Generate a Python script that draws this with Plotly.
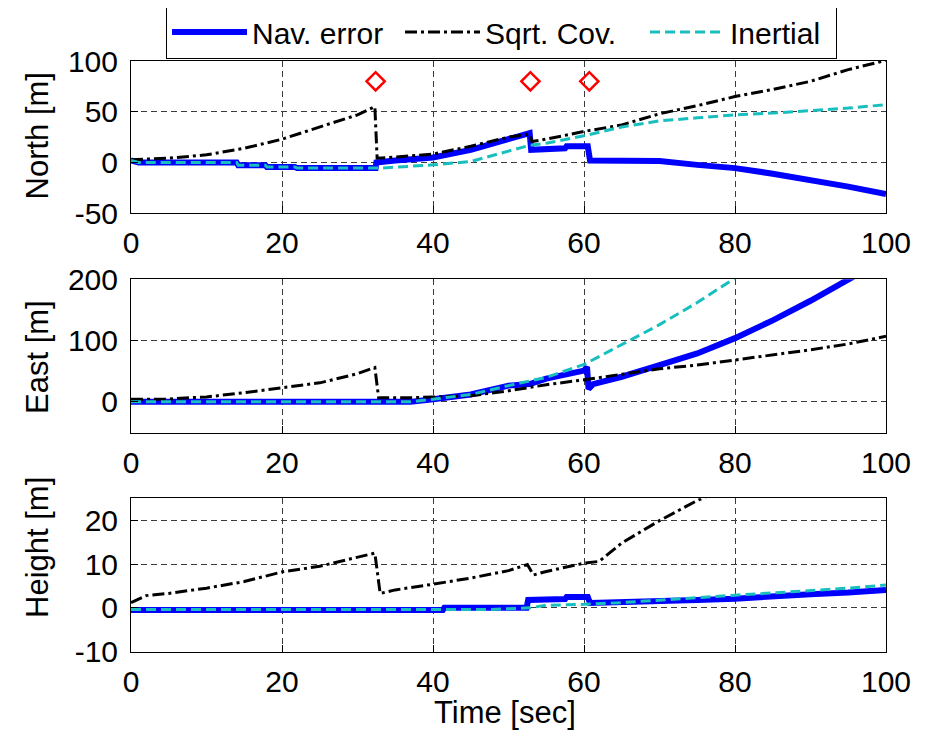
import plotly.graph_objects as go
from plotly.subplots import make_subplots

# ---------------- data ----------------
# North
t_nav_n = [0, 1, 14, 14.2, 17.8, 18, 21.7, 22, 32.4, 32.5, 35, 40, 45, 50, 52.8, 53.0, 55, 57.5, 57.7, 60.5, 60.8, 65, 70, 75, 80, 85, 90, 95, 100]
nav_n = [2, 0, 0, -2.6, -2.6, -4.3, -4.3, -5.5, -5.5, 0, 2, 5, 12.5, 23, 29, 12.5, 13, 14, 16, 16, 2, 1.8, 1.5, -2.3, -5.5, -11, -17, -23.7, -31]
t_cov_n = [0, 5, 10, 15, 20, 25, 30, 32.3, 32.6, 35, 40, 45, 50, 52.8, 53.1, 55, 60, 65, 70, 75, 80, 85, 90, 95, 100]
cov_n = [2.7, 4.3, 7.6, 14, 23, 35, 47, 55, 4.3, 5.3, 8.3, 16, 25, 28, 20.7, 23, 30.6, 37, 48, 56, 65, 72, 80, 91.5, 100.7]
t_ins_n = [0, 1, 14, 14.2, 17.8, 18, 21.7, 22, 33, 37, 40, 45, 50, 52.8, 55, 60, 65, 70, 75, 80, 85, 90, 95, 100]
ins_n = [2, 0, 0, -2.6, -2.6, -4.3, -4.3, -5.5, -5.5, -4, -2.3, 1, 11, 17, 19, 26.4, 35, 41, 44, 47, 48.7, 51, 53.6, 57]
t_update = [32.4, 52.9, 60.7]
y_update = [80, 80, 80]

# East
t_nav_e = [0, 37, 40, 45, 50, 52.8, 55, 60, 60.4, 60.6, 61.2, 65, 70, 75, 80, 85, 90, 95, 96.5]
nav_e = [0, 0, 4.4, 12, 26.5, 29, 38, 51, 57, 21, 29, 41, 60, 79, 104, 133, 165, 200.6, 210]
t_cov_e = [0, 5, 8, 10, 15, 20, 25, 30, 32.3, 32.8, 35, 37, 40, 45, 50, 55, 60, 65, 70, 75, 80, 85, 90, 95, 100]
cov_e = [4.4, 4.4, 7, 8, 15, 22.6, 31, 46, 56, 6.6, 6.6, 6.6, 8, 10, 18, 28, 36, 45, 54, 60, 68, 76, 85, 94.5, 107]
t_ins_e = [0, 37, 40, 45, 50, 55, 60, 65, 70, 75, 80, 81]
ins_e = [0, 0, 4.4, 12, 26.5, 40, 61, 93, 126, 162, 202, 210]

# Height
t_nav_h = [0, 41.3, 41.5, 52.4, 52.6, 57.5, 57.7, 60.5, 60.8, 65, 70, 75, 80, 85, 90, 95, 100]
nav_h = [-0.5, -0.5, 0, 0, 1.8, 2, 2.5, 2.5, 1.1, 1.4, 1.5, 1.8, 2.1, 2.7, 3.1, 3.5, 4.1]
t_cov_h = [0, 2, 5, 10, 15, 20, 25, 30, 32.3, 33, 35, 40, 45, 50, 52.5, 53.3, 55, 60, 62, 65, 70, 75, 77]
cov_h = [1.2, 2.8, 3.3, 4.5, 6, 8.2, 9.5, 11.5, 12.5, 3.3, 4.1, 5.4, 6.8, 8.5, 9.9, 7.5, 8.3, 10.2, 10.6, 14.8, 19.9, 24.5, 26]
t_ins_h = [0, 47, 50, 52.8, 55, 60, 65, 70, 75, 80, 85, 90, 95, 100]
ins_h = [-0.4, -0.4, -0.2, 0, 0.6, 0.8, 1.2, 1.8, 2.3, 2.9, 3.4, 3.9, 4.5, 5.2]

x_ticks = [0, 20, 40, 60, 80, 100]
north_ticks = [-50, 0, 50, 100]
east_ticks = [0, 100, 200]
height_ticks = [-10, 0, 10, 20]

series_names = ["Nav. error", "Sqrt. Cov.", "Inertial"]
panel_titles = ["North [m]", "East [m]", "Height [m]"]
x_title = "Time [sec]"

# ---------------- styling ----------------
OFF = 8                      # page body margin; screen px -> figure px
W, H = 929 - OFF, 733 - OFF
BLUE = "#0000FF"
BLACK = "#000000"
CYAN = "#19BFBF"
RED = "#FF0000"
FONT = "Liberation Sans, Arial, Helvetica, sans-serif"
FS = 30
legend_widths = [143, 155, 101]


def sx(px):
    return px - OFF


def sy(px):
    return px - OFF


fig = make_subplots(rows=3, cols=1)

panels = [
    (t_nav_n, nav_n, t_cov_n, cov_n, t_ins_n, ins_n),
    (t_nav_e, nav_e, t_cov_e, cov_e, t_ins_e, ins_e),
    (t_nav_h, nav_h, t_cov_h, cov_h, t_ins_h, ins_h),
]
for i, (tn, vn, tc, vc, ti, vi) in enumerate(panels):
    row = i + 1
    fig.add_trace(go.Scatter(x=tn, y=vn, mode="lines", name=series_names[0],
                             line=dict(color=BLUE, width=6), showlegend=(i == 0),
                             legendrank=1, legendwidth=legend_widths[0]), row=row, col=1)
    fig.add_trace(go.Scatter(x=tc, y=vc, mode="lines", name=series_names[1],
                             line=dict(color=BLACK, width=3, dash="12px,4px,3px,4px"),
                             showlegend=(i == 0), legendrank=2,
                             legendwidth=legend_widths[1]), row=row, col=1)
    fig.add_trace(go.Scatter(x=ti, y=vi, mode="lines", name=series_names[2],
                             line=dict(color=CYAN, width=3, dash="10px,5px"),
                             showlegend=(i == 0), legendrank=3,
                             legendwidth=legend_widths[2]), row=row, col=1)

fig.add_trace(go.Scatter(x=t_update, y=y_update, mode="markers", showlegend=False,
                         marker=dict(symbol="diamond-open", size=14, color=RED,
                                     line=dict(color=RED, width=2.5))), row=1, col=1)

# plot-area geometry (screen pixels from the reference)
left, right = sx(131), sx(886)
rows_px = [(sy(61), sy(213.3)), (sy(279.3), sy(432.5)), (sy(498.3), sy(651.7))]
yranges = [[-50, 100], [-50, 200], [-10, 25]]
yticks = [north_ticks, east_ticks, height_ticks]

axis_common = dict(
    showline=True, mirror=True, linecolor="black", linewidth=1,
    ticks="inside", ticklen=7, tickcolor="black", automargin=False,
    showgrid=True, gridcolor="#3a3a3a", gridwidth=1, griddash="6px,4px",
    zeroline=False, tickfont=dict(family=FONT, size=FS, color="black"),
)

for i in range(3):
    top, bot = rows_px[i]
    dom = [1 - bot / H, 1 - top / H]
    xa = "xaxis" if i == 0 else f"xaxis{i+1}"
    ya = "yaxis" if i == 0 else f"yaxis{i+1}"
    fig.update_layout({
        xa: dict(axis_common, domain=[0, 1], range=[0, 100], tickvals=x_ticks,
                 ticktext=[str(v) for v in x_ticks], ticklabelstandoff=3),
        ya: dict(axis_common, domain=dom, range=yranges[i], tickvals=yticks[i],
                 ticktext=[str(v) for v in yticks[i]], ticklabelstandoff=6),
    })

annotations = []
title_centers = [136.5, 357, 548]
for txt, yc in zip(panel_titles, title_centers):
    annotations.append(dict(text=txt, xref="paper", yref="paper",
                            x=(sx(37) - left) / (right - left), y=1 - sy(yc) / H,
                            xanchor="center", yanchor="middle", textangle=-90,
                            showarrow=False, font=dict(family=FONT, size=FS + 1, color="black")))
annotations.append(dict(text=x_title, xref="paper", yref="paper",
                        x=(sx(505) - left) / (right - left), y=1 - sy(712) / H,
                        xanchor="center", yanchor="middle", showarrow=False,
                        font=dict(family=FONT, size=FS + 1, color="black")))

fig.update_layout(
    width=W, height=H,
    margin=dict(l=left, r=W - right, t=0, b=0, pad=0, autoexpand=False),
    paper_bgcolor="white", plot_bgcolor="white",
    font=dict(family=FONT, size=FS, color="black"),
    annotations=annotations,
    legend=dict(orientation="h", x=(sx(166) - left) / (right - left), xanchor="left",
                y=1 - sy(5) / H, yanchor="top", bgcolor="white",
                bordercolor="black", borderwidth=1, itemwidth=75,
                font=dict(family=FONT, size=FS, color="black"),
                tracegroupgap=0),
)

fig.write_html("out.html")
